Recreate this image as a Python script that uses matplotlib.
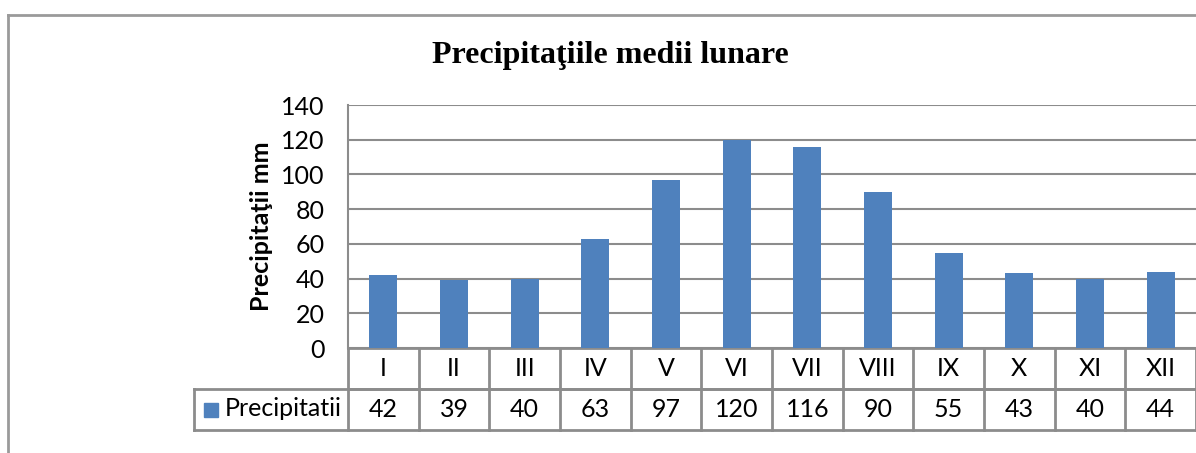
import matplotlib.pyplot as plt
from matplotlib.lines import Line2D
from matplotlib.patches import Rectangle

# Date: precipitatii medii lunare (mm)
luni = ['I', 'II', 'III', 'IV', 'V', 'VI', 'VII', 'VIII', 'IX', 'X', 'XI', 'XII']
precipitatii = [42, 39, 40, 63, 97, 120, 116, 90, 55, 43, 40, 44]
serie = 'Precipitatii'
yticks = [0, 20, 40, 60, 80, 100, 120, 140]

blue = '#4F81BD'
gray = '#8C8C8C'
sans = ['Lato', 'DejaVu Sans']
fs = 18

W, H = 1196, 453
fig = plt.figure(figsize=(W / 100, H / 100), dpi=100)

# zona graficului (in pixeli)
left, right, top, bottom = 348, 1196, 105, 348
ax = fig.add_axes([left / W, 1 - bottom / H, (right - left) / W, (bottom - top) / H])

x = range(len(luni))
ax.bar(x, precipitatii, width=0.4, color=blue, zorder=3)
ax.set_xlim(-0.5, len(luni) - 0.5)
ax.set_ylim(0, 140)
ax.set_yticks(yticks)
ax.set_yticklabels([str(v) for v in yticks], fontsize=fs, family=sans)
ax.tick_params(axis='y', length=0, pad=17)
ax.set_xticks([])
ax.grid(axis='y', color=gray, linewidth=1.5, zorder=0)
for s in ['top', 'right', 'bottom']:
    ax.spines[s].set_visible(False)
ax.spines['left'].set_color(gray)
ax.spines['left'].set_linewidth(1.5)
ax.spines['left'].set_zorder(4)

ax.set_ylabel('Precipitaţii mm', fontsize=18, fontweight='bold', family=sans, va='center')
ax.yaxis.set_label_coords((262 - left) / (right - left), 0.5)

# tabelul de date sub grafic
row_h = 41 / (bottom - top)
tr = ax.get_xaxis_transform()
legend_x = -0.5 - (left - 194) / ((right - left) / len(luni))
kw = dict(color=gray, linewidth=2, clip_on=False, transform=tr)
ax.add_line(Line2D([-0.5, 11.5], [0, 0], **kw))
ax.add_line(Line2D([-0.5, 11.5], [-row_h, -row_h], **kw))
ax.add_line(Line2D([legend_x, 11.5], [-row_h, -row_h], **kw))
ax.add_line(Line2D([legend_x, 11.5], [-2 * row_h, -2 * row_h], **kw))
ax.add_line(Line2D([legend_x, legend_x], [-row_h, -2 * row_h], **kw))
for i in range(len(luni) + 1):
    ax.add_line(Line2D([i - 0.5, i - 0.5], [0, -2 * row_h], **kw))
for i, (l, v) in enumerate(zip(luni, precipitatii)):
    ax.text(i, -row_h / 2, l, transform=tr, ha='center', va='center', fontsize=fs, family=sans)
    ax.text(i, -1.5 * row_h, str(v), transform=tr, ha='center', va='center', fontsize=fs, family=sans)

# legenda in tabel
fig.patches.append(Rectangle((204 / W, 1 - 417 / H), 14 / W, 14 / H, color=blue, transform=fig.transFigure))
fig.text(225 / W, 1 - 409 / H, serie, ha='left', va='center', fontsize=fs, family=sans)

# titlu
fig.text(610 / W, 1 - 55 / H, 'Precipitaţiile medii lunare', ha='center', va='center',
         fontsize=23, fontweight='bold', family='Liberation Serif')

# chenarul exterior
fig.add_artist(Line2D([8 / W, 8 / W], [0, 1 - 15 / H], color='#9a9a9a', linewidth=2, transform=fig.transFigure))
fig.add_artist(Line2D([8 / W, 1], [1 - 15 / H, 1 - 15 / H], color='#9a9a9a', linewidth=2, transform=fig.transFigure))

fig.savefig('out.png', dpi=100)
